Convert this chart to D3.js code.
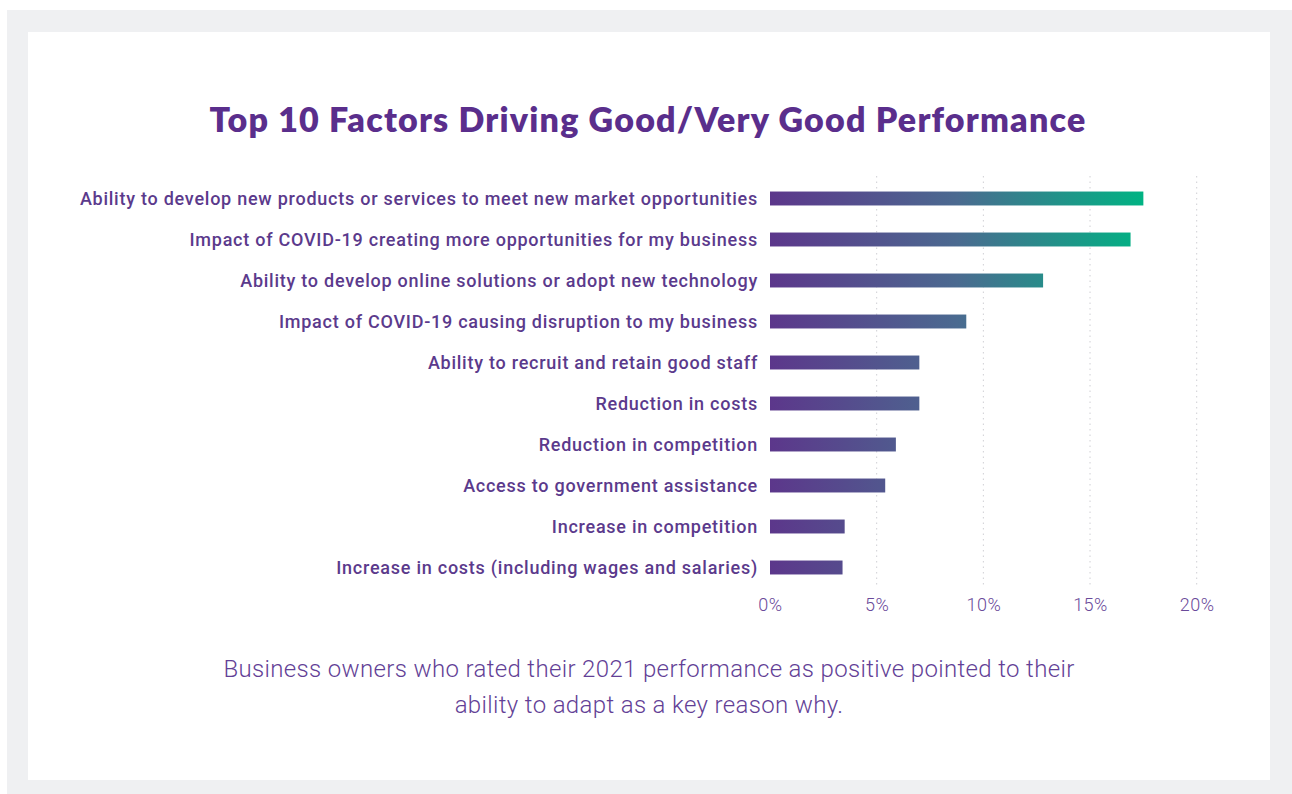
<!DOCTYPE html>
<html>
<head>
<meta charset="utf-8">
<script src="https://cdn.jsdelivr.net/npm/d3@7"></script>
<style>
  body { margin: 0; background: #fff; }
</style>
</head>
<body>
<div id="chart"></div>
<script>
const factors = [
  "Ability to develop new products or services to meet new market opportunities",
  "Impact of COVID-19 creating more opportunities for my business",
  "Ability to develop online solutions or adopt new technology",
  "Impact of COVID-19 causing disruption to my business",
  "Ability to recruit and retain good staff",
  "Reduction in costs",
  "Reduction in competition",
  "Access to government assistance",
  "Increase in competition",
  "Increase in costs (including wages and salaries)"
];
const shares = [17.5, 16.9, 12.8, 9.2, 7.0, 7.0, 5.9, 5.4, 3.5, 3.4];
const ticks = [0, 5, 10, 15, 20];
const title = "Top 10 Factors Driving Good/Very Good Performance";
const caption = [
  "Business owners who rated their 2021 performance as positive pointed to their",
  "ability to adapt as a key reason why."
];

const width = 1292, height = 794;
const purple = "#5b3a8c";

const svg = d3.select("#chart").append("svg")
    .attr("width", width)
    .attr("height", height);

// grey frame and white card
svg.append("rect").attr("x", 7).attr("y", 10).attr("width", width - 7).attr("height", height - 10).attr("fill", "#eff0f2");
svg.append("rect").attr("x", 28).attr("y", 32).attr("width", 1242).attr("height", 748).attr("fill", "#fff");

svg.append("text")
    .attr("x", 648)
    .attr("y", 132)
    .attr("text-anchor", "middle")
    .attr("font-family", "Lato, sans-serif")
    .attr("font-weight", 800)
    .attr("font-size", "34px")
    .attr("letter-spacing", "1.2px")
    .attr("fill", "#5a2e8c")
    .text(title);

const x = d3.scaleLinear().domain([0, 20]).range([770, 1196.7]);
const y = d3.scaleBand().domain(factors).range([178, 588]).paddingInner(0.66).paddingOuter(0.33);

// gradient runs along the axis, so short bars stay purple
const grad = svg.append("defs").append("linearGradient")
    .attr("id", "barGrad")
    .attr("gradientUnits", "userSpaceOnUse")
    .attr("x1", x(0)).attr("x2", x(d3.max(shares)))
    .attr("y1", 0).attr("y2", 0);
grad.append("stop").attr("offset", "0%").attr("stop-color", "#5c378b");
grad.append("stop").attr("offset", "50%").attr("stop-color", "#4b6a90");
grad.append("stop").attr("offset", "100%").attr("stop-color", "#00b383");

// dotted grid
svg.append("g")
    .selectAll("line")
    .data(ticks.slice(1))
    .join("line")
    .attr("x1", d => x(d)).attr("x2", d => x(d))
    .attr("y1", 176).attr("y2", 588)
    .attr("stroke", "#cfcfd4")
    .attr("stroke-width", 1)
    .attr("stroke-dasharray", "1.5,4");

svg.append("g")
    .selectAll("rect")
    .data(shares)
    .join("rect")
    .attr("x", x(0))
    .attr("y", (d, i) => y(factors[i]))
    .attr("width", d => x(d) - x(0))
    .attr("height", y.bandwidth())
    .attr("fill", "url(#barGrad)");

svg.append("g")
    .selectAll("text")
    .data(factors)
    .join("text")
    .attr("x", 758)
    .attr("y", d => y(d) + y.bandwidth() / 2)
    .attr("dy", "0.36em")
    .attr("text-anchor", "end")
    .attr("font-family", "Roboto, sans-serif")
    .attr("font-weight", 500)
    .attr("font-size", "18px")
    .attr("letter-spacing", "0.75px")
    .attr("fill", purple)
    .text(d => d);

const axis = svg.append("g")
    .attr("transform", "translate(0,595)")
    .call(d3.axisBottom(x).tickValues(ticks).tickFormat(d => d + "%").tickSize(0));
axis.select(".domain").remove();
axis.selectAll("text")
    .attr("font-family", "Roboto, sans-serif")
    .attr("font-weight", 300)
    .attr("font-size", "18px")
    .attr("letter-spacing", "0.5px")
    .attr("fill", "#6a4a9a");

svg.append("g")
    .selectAll("text")
    .data(caption)
    .join("text")
    .attr("x", 649)
    .attr("y", (d, i) => 677 + i * 36)
    .attr("text-anchor", "middle")
    .attr("font-family", "Roboto, sans-serif")
    .attr("font-weight", 300)
    .attr("font-size", "24px")
    .attr("letter-spacing", "0.35px")
    .attr("fill", "#633f96")
    .text(d => d);
</script>
</body>
</html>
